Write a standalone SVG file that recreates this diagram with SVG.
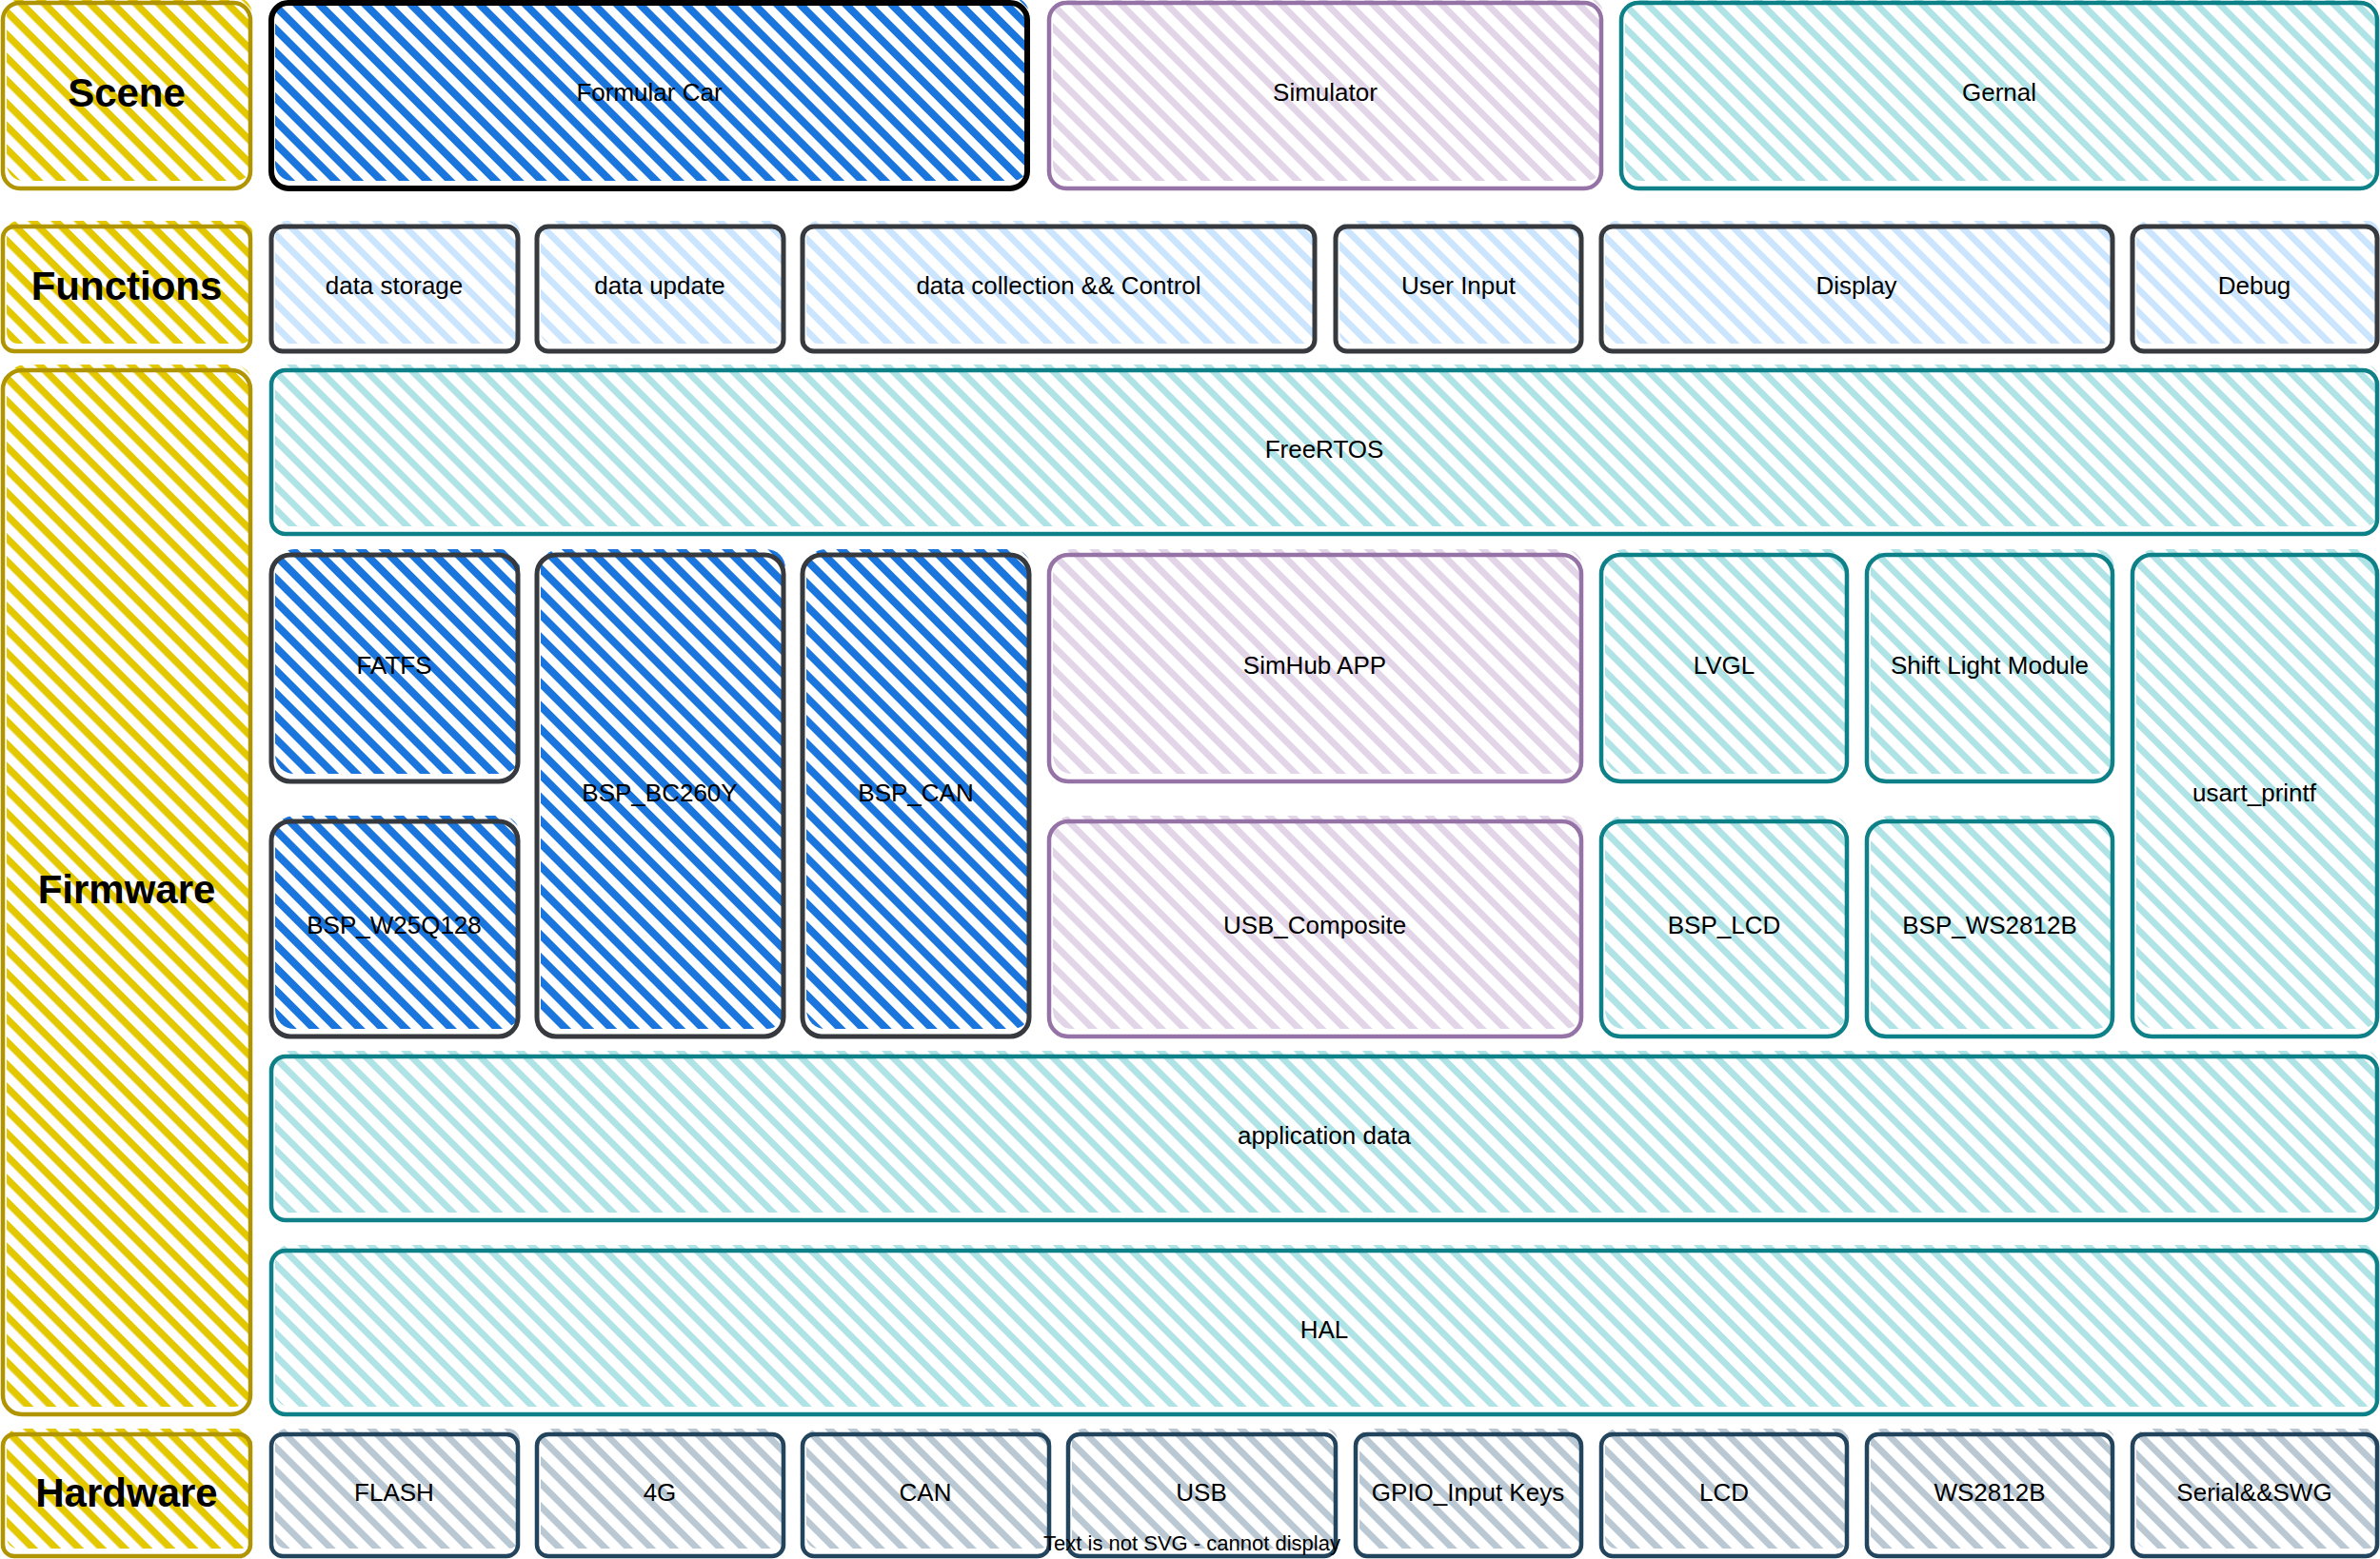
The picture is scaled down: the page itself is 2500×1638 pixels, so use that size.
<svg xmlns="http://www.w3.org/2000/svg" width="2500" height="1638" viewBox="0 0 2500 1638">
<defs>
<pattern id="pYel" width="17" height="17" patternUnits="userSpaceOnUse" patternTransform="rotate(45)"><rect width="17" height="7.5" fill="#e3c800"/></pattern>
<pattern id="pBlue" width="17" height="17" patternUnits="userSpaceOnUse" patternTransform="rotate(45)"><rect width="17" height="8" fill="#1a76dd"/></pattern>
<pattern id="pLil" width="17" height="17" patternUnits="userSpaceOnUse" patternTransform="rotate(45)"><rect width="17" height="7" fill="#e1d5e7"/></pattern>
<pattern id="pTeal" width="17" height="17" patternUnits="userSpaceOnUse" patternTransform="rotate(45)"><rect width="17" height="7" fill="#b0e3e6"/></pattern>
<pattern id="pLb" width="17" height="17" patternUnits="userSpaceOnUse" patternTransform="rotate(45)"><rect width="17" height="7" fill="#cce5ff"/></pattern>
<pattern id="pGray" width="17" height="17" patternUnits="userSpaceOnUse" patternTransform="rotate(45)"><rect width="17" height="7" fill="#bac8d3"/></pattern>
</defs>
<style>
text{font-family:"Liberation Sans",Arial,Helvetica,sans-serif;font-size:26px;fill:#000;text-anchor:middle;dominant-baseline:central}
text.b{font-weight:bold;font-size:42px}
text.w{font-size:22px}
.o{fill:none}
.yel .f{fill:url(#pYel)} .yel .o{stroke:#b09500;stroke-width:4.5}
.car .f{fill:url(#pBlue)} .car .o{stroke:#000;stroke-width:6}
.blu .f{fill:url(#pBlue)} .blu .o{stroke:#36393d;stroke-width:5}
.lil .f{fill:url(#pLil)} .lil .o{stroke:#9673a6;stroke-width:4.5}
.teal .f{fill:url(#pTeal)} .teal .o{stroke:#0e8088;stroke-width:4.5}
.lb .f{fill:url(#pLb)} .lb .o{stroke:#36393d;stroke-width:5}
.gr .f{fill:url(#pGray)} .gr .o{stroke:#23445d;stroke-width:4.5}
</style>
<rect width="2500" height="1638" fill="#fff"/>

<g id="label-scene" class="yel"><rect class="f" x="7" y="-3" width="258" height="193" rx="18"/><rect class="o" x="3" y="3" width="260" height="195" rx="18"/><text class="b" x="133" y="97">Scene</text></g>
<g id="label-functions" class="yel"><rect class="f" x="7" y="232" width="258" height="129" rx="12"/><rect class="o" x="3" y="238" width="260" height="131" rx="12"/><text class="b" x="133" y="300">Functions</text></g>
<g id="label-firmware" class="yel"><rect class="f" x="7" y="383" width="258" height="1095" rx="20"/><rect class="o" x="3" y="389" width="260" height="1097" rx="20"/><text class="b" x="133" y="934">Firmware</text></g>
<g id="label-hardware" class="yel"><rect class="f" x="7" y="1501" width="258" height="126" rx="12"/><rect class="o" x="3" y="1507" width="260" height="128" rx="12"/><text class="b" x="133" y="1568">Hardware</text></g>

<g id="scene-formular-car" class="car"><rect class="f" x="289" y="-3" width="792" height="193" rx="18"/><rect class="o" x="285" y="3" width="794" height="195" rx="18"/><text x="682" y="97">Formular Car</text></g>
<g id="scene-simulator" class="lil"><rect class="f" x="1106" y="-3" width="578" height="193" rx="18"/><rect class="o" x="1102" y="3" width="580" height="195" rx="18"/><text x="1392" y="97">Simulator</text></g>
<g id="scene-gernal" class="teal"><rect class="f" x="1707" y="-3" width="792" height="193" rx="18"/><rect class="o" x="1703" y="3" width="794" height="195" rx="18"/><text x="2100" y="97">Gernal</text></g>

<g id="fn-data-storage" class="lb"><rect class="f" x="289" y="232" width="257" height="129" rx="12"/><rect class="o" x="285" y="238" width="259" height="131" rx="12"/><text x="414" y="300">data storage</text></g>
<g id="fn-data-update" class="lb"><rect class="f" x="568" y="232" width="257" height="129" rx="12"/><rect class="o" x="564" y="238" width="259" height="131" rx="12"/><text x="693" y="300">data update</text></g>
<g id="fn-data-collection" class="lb"><rect class="f" x="847" y="232" width="536" height="129" rx="12"/><rect class="o" x="843" y="238" width="538" height="131" rx="12"/><text x="1112" y="300">data collection &amp;&amp; Control</text></g>
<g id="fn-user-input" class="lb"><rect class="f" x="1407" y="232" width="256" height="129" rx="12"/><rect class="o" x="1403" y="238" width="258" height="131" rx="12"/><text x="1532" y="300">User Input</text></g>
<g id="fn-display" class="lb"><rect class="f" x="1686" y="232" width="535" height="129" rx="12"/><rect class="o" x="1682" y="238" width="537" height="131" rx="12"/><text x="1950" y="300">Display</text></g>
<g id="fn-debug" class="lb"><rect class="f" x="2244" y="232" width="255" height="129" rx="12"/><rect class="o" x="2240" y="238" width="257" height="131" rx="12"/><text x="2368" y="300">Debug</text></g>

<g id="fw-freertos" class="teal"><rect class="f" x="289" y="383" width="2210" height="170" rx="15"/><rect class="o" x="285" y="389" width="2212" height="172" rx="15"/><text x="1391" y="472">FreeRTOS</text></g>
<g id="fw-fatfs" class="blu"><rect class="f" x="289" y="577" width="257" height="236" rx="20"/><rect class="o" x="285" y="583" width="259" height="238" rx="20"/><text x="414" y="699">FATFS</text></g>
<g id="fw-bsp-w25q128" class="blu"><rect class="f" x="289" y="857" width="257" height="224" rx="20"/><rect class="o" x="285" y="863" width="259" height="226" rx="20"/><text x="414" y="972">BSP_W25Q128</text></g>
<g id="fw-bsp-bc260y" class="blu"><rect class="f" x="568" y="577" width="257" height="504" rx="20"/><rect class="o" x="564" y="583" width="259" height="506" rx="20"/><text x="693" y="833">BSP_BC260Y</text></g>
<g id="fw-bsp-can" class="blu"><rect class="f" x="847" y="577" width="236" height="504" rx="20"/><rect class="o" x="843" y="583" width="238" height="506" rx="20"/><text x="962" y="833">BSP_CAN</text></g>
<g id="fw-simhub-app" class="lil"><rect class="f" x="1106" y="577" width="557" height="236" rx="20"/><rect class="o" x="1102" y="583" width="559" height="238" rx="20"/><text x="1381" y="699">SimHub APP</text></g>
<g id="fw-usb-composite" class="lil"><rect class="f" x="1106" y="857" width="557" height="224" rx="20"/><rect class="o" x="1102" y="863" width="559" height="226" rx="20"/><text x="1381" y="972">USB_Composite</text></g>
<g id="fw-lvgl" class="teal"><rect class="f" x="1686" y="577" width="256" height="236" rx="20"/><rect class="o" x="1682" y="583" width="258" height="238" rx="20"/><text x="1811" y="699">LVGL</text></g>
<g id="fw-shift-light" class="teal"><rect class="f" x="1965" y="577" width="256" height="236" rx="20"/><rect class="o" x="1961" y="583" width="258" height="238" rx="20"/><text x="2090" y="699">Shift Light Module</text></g>
<g id="fw-bsp-lcd" class="teal"><rect class="f" x="1686" y="857" width="256" height="224" rx="20"/><rect class="o" x="1682" y="863" width="258" height="226" rx="20"/><text x="1811" y="972">BSP_LCD</text></g>
<g id="fw-bsp-ws2812b" class="teal"><rect class="f" x="1965" y="857" width="256" height="224" rx="20"/><rect class="o" x="1961" y="863" width="258" height="226" rx="20"/><text x="2090" y="972">BSP_WS2812B</text></g>
<g id="fw-usart-printf" class="teal"><rect class="f" x="2244" y="577" width="255" height="504" rx="20"/><rect class="o" x="2240" y="583" width="257" height="506" rx="20"/><text x="2368" y="833">usart_printf</text></g>
<g id="fw-application-data" class="teal"><rect class="f" x="289" y="1104" width="2210" height="170" rx="15"/><rect class="o" x="285" y="1110" width="2212" height="172" rx="15"/><text x="1391" y="1193">application data</text></g>
<g id="fw-hal" class="teal"><rect class="f" x="289" y="1308" width="2210" height="170" rx="15"/><rect class="o" x="285" y="1314" width="2212" height="172" rx="15"/><text x="1391" y="1397">HAL</text></g>

<g id="hw-flash" class="gr"><rect class="f" x="289" y="1501" width="257" height="126" rx="12"/><rect class="o" x="285" y="1507" width="259" height="128" rx="12"/><text x="414" y="1568">FLASH</text></g>
<g id="hw-4g" class="gr"><rect class="f" x="568" y="1501" width="257" height="126" rx="12"/><rect class="o" x="564" y="1507" width="259" height="128" rx="12"/><text x="693" y="1568">4G</text></g>
<g id="hw-can" class="gr"><rect class="f" x="847" y="1501" width="257" height="126" rx="12"/><rect class="o" x="843" y="1507" width="259" height="128" rx="12"/><text x="972" y="1568">CAN</text></g>
<g id="hw-usb" class="gr"><rect class="f" x="1126" y="1501" width="279" height="126" rx="12"/><rect class="o" x="1122" y="1507" width="281" height="128" rx="12"/><text x="1262" y="1568">USB</text></g>
<g id="hw-gpio" class="gr"><rect class="f" x="1428" y="1501" width="235" height="126" rx="12"/><rect class="o" x="1424" y="1507" width="237" height="128" rx="12"/><text x="1542" y="1568">GPIO_Input Keys</text></g>
<g id="hw-lcd" class="gr"><rect class="f" x="1686" y="1501" width="256" height="126" rx="12"/><rect class="o" x="1682" y="1507" width="258" height="128" rx="12"/><text x="1811" y="1568">LCD</text></g>
<g id="hw-ws2812b" class="gr"><rect class="f" x="1965" y="1501" width="256" height="126" rx="12"/><rect class="o" x="1961" y="1507" width="258" height="128" rx="12"/><text x="2090" y="1568">WS2812B</text></g>
<g id="hw-serial-swg" class="gr"><rect class="f" x="2244" y="1501" width="255" height="126" rx="12"/><rect class="o" x="2240" y="1507" width="257" height="128" rx="12"/><text x="2368" y="1568">Serial&amp;&amp;SWG</text></g>

<g id="connectors"></g>
<text class="w" x="1252" y="1621">Text is not SVG - cannot display</text>
</svg>
